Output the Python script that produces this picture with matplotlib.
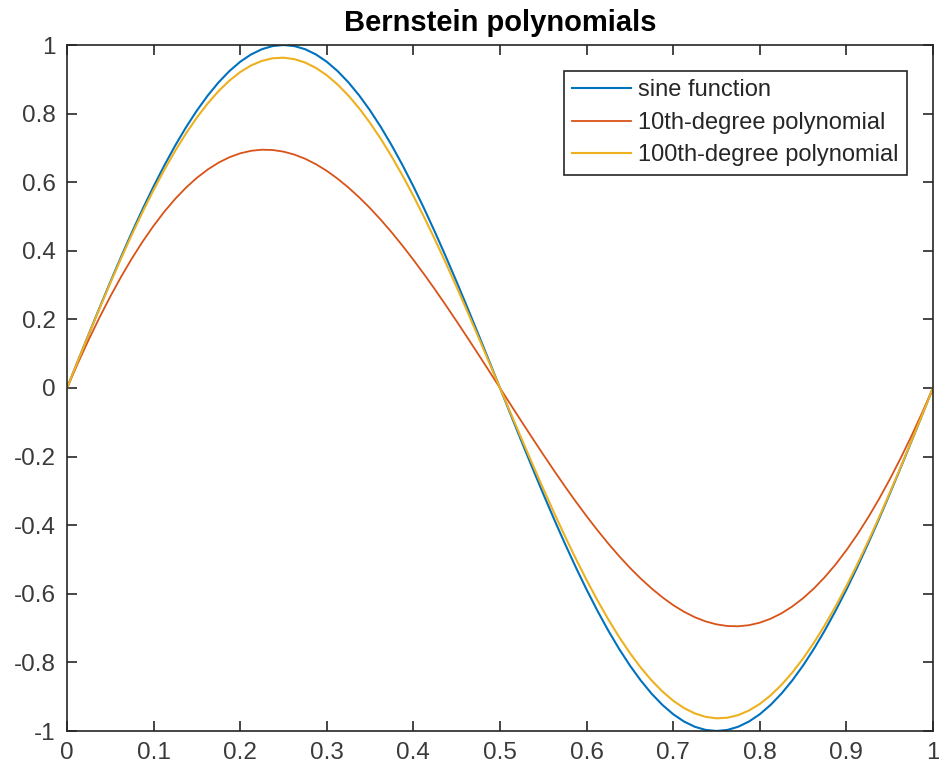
#!/usr/bin/env python3
"""Recreate the Bernstein polynomials comparison plot."""
import matplotlib
matplotlib.use('Agg')
import matplotlib.pyplot as plt

x_vals = [
    0.0000, 0.0125, 0.0250, 0.0375, 0.0500, 0.0625, 0.0750, 0.0875, 0.1000, 0.1125,
    0.1250, 0.1375, 0.1500, 0.1625, 0.1750, 0.1875, 0.2000, 0.2125, 0.2250, 0.2375,
    0.2500, 0.2625, 0.2750, 0.2875, 0.3000, 0.3125, 0.3250, 0.3375, 0.3500, 0.3625,
    0.3750, 0.3875, 0.4000, 0.4125, 0.4250, 0.4375, 0.4500, 0.4625, 0.4750, 0.4875,
    0.5000, 0.5125, 0.5250, 0.5375, 0.5500, 0.5625, 0.5750, 0.5875, 0.6000, 0.6125,
    0.6250, 0.6375, 0.6500, 0.6625, 0.6750, 0.6875, 0.7000, 0.7125, 0.7250, 0.7375,
    0.7500, 0.7625, 0.7750, 0.7875, 0.8000, 0.8125, 0.8250, 0.8375, 0.8500, 0.8625,
    0.8750, 0.8875, 0.9000, 0.9125, 0.9250, 0.9375, 0.9500, 0.9625, 0.9750, 0.9875,
    1.0000,
]
sine_vals = [
    0.0000, 0.0785, 0.1564, 0.2334, 0.3090, 0.3827, 0.4540, 0.5225, 0.5878, 0.6494,
    0.7071, 0.7604, 0.8090, 0.8526, 0.8910, 0.9239, 0.9511, 0.9724, 0.9877, 0.9969,
    1.0000, 0.9969, 0.9877, 0.9724, 0.9511, 0.9239, 0.8910, 0.8526, 0.8090, 0.7604,
    0.7071, 0.6494, 0.5878, 0.5225, 0.4540, 0.3827, 0.3090, 0.2334, 0.1564, 0.0785,
    0.0000, -0.0785, -0.1564, -0.2334, -0.3090, -0.3827, -0.4540, -0.5225, -0.5878, -0.6494,
    -0.7071, -0.7604, -0.8090, -0.8526, -0.8910, -0.9239, -0.9511, -0.9724, -0.9877, -0.9969,
    -1.0000, -0.9969, -0.9877, -0.9724, -0.9511, -0.9239, -0.8910, -0.8526, -0.8090, -0.7604,
    -0.7071, -0.6494, -0.5878, -0.5225, -0.4540, -0.3827, -0.3090, -0.2334, -0.1564, -0.0785,
    0.0000,
]
deg10_vals = [
    0.0000, 0.0719, 0.1404, 0.2054, 0.2667, 0.3243, 0.3779, 0.4275, 0.4730, 0.5144,
    0.5515, 0.5843, 0.6128, 0.6370, 0.6570, 0.6727, 0.6842, 0.6915, 0.6947, 0.6939,
    0.6891, 0.6806, 0.6683, 0.6524, 0.6330, 0.6102, 0.5843, 0.5556, 0.5242, 0.4900,
    0.4534, 0.4146, 0.3737, 0.3311, 0.2869, 0.2411, 0.1942, 0.1465, 0.0981, 0.0492,
    0.0000, -0.0492, -0.0981, -0.1465, -0.1942, -0.2411, -0.2869, -0.3311, -0.3737, -0.4146,
    -0.4534, -0.4900, -0.5242, -0.5556, -0.5843, -0.6102, -0.6330, -0.6524, -0.6683, -0.6806,
    -0.6891, -0.6939, -0.6947, -0.6915, -0.6842, -0.6727, -0.6570, -0.6370, -0.6128, -0.5843,
    -0.5515, -0.5144, -0.4730, -0.4275, -0.3779, -0.3243, -0.2667, -0.2054, -0.1404, -0.0719,
    0.0000,
]
deg100_vals = [
    0.0000, 0.0783, 0.1557, 0.2317, 0.3061, 0.3783, 0.4478, 0.5143, 0.5774, 0.6366,
    0.6918, 0.7426, 0.7886, 0.8297, 0.8656, 0.8961, 0.9211, 0.9403, 0.9537, 0.9613,
    0.9630, 0.9588, 0.9488, 0.9331, 0.9117, 0.8847, 0.8524, 0.8150, 0.7727, 0.7257,
    0.6744, 0.6190, 0.5600, 0.4975, 0.4321, 0.3641, 0.2939, 0.2219, 0.1487, 0.0746,
    0.0000, -0.0746, -0.1487, -0.2219, -0.2939, -0.3641, -0.4321, -0.4975, -0.5600, -0.6190,
    -0.6744, -0.7257, -0.7727, -0.8150, -0.8524, -0.8847, -0.9117, -0.9331, -0.9488, -0.9588,
    -0.9630, -0.9613, -0.9537, -0.9403, -0.9211, -0.8961, -0.8656, -0.8297, -0.7886, -0.7426,
    -0.6918, -0.6366, -0.5774, -0.5143, -0.4478, -0.3783, -0.3061, -0.2317, -0.1557, -0.0783,
    0.0000,
]
series_labels = ['sine function', '10th-degree polynomial', '100th-degree polynomial']
x_ticks = [0, 0.1, 0.2, 0.3, 0.4, 0.5, 0.6, 0.7, 0.8, 0.9, 1]
x_tick_labels = ['0', '0.1', '0.2', '0.3', '0.4', '0.5', '0.6', '0.7', '0.8', '0.9', '1']
y_ticks = [-1, -0.8, -0.6, -0.4, -0.2, 0, 0.2, 0.4, 0.6, 0.8, 1]
y_tick_labels = ['-1', '-0.8', '-0.6', '-0.4', '-0.2', '0', '0.2', '0.4', '0.6', '0.8', '1']


def main():
    plt.rcParams['font.family'] = ['Liberation Sans', 'DejaVu Sans']
    plt.rcParams['axes.unicode_minus'] = False

    dark = '#262626'
    fig = plt.figure(figsize=(9.39, 7.76), dpi=100)
    ax = fig.add_axes([67 / 939, 45 / 776, 866 / 939, 686 / 776])

    # MATLAB default colour order
    ax.plot(x_vals, sine_vals, color='#0072BD', linewidth=1.5, label=series_labels[0])
    ax.plot(x_vals, deg10_vals, color='#D95319', linewidth=1.3, label=series_labels[1])
    ax.plot(x_vals, deg100_vals, color='#EDB120', linewidth=1.5, label=series_labels[2])

    ax.set_xlim(0, 1)
    ax.set_ylim(-1, 1)
    ax.set_xticks(x_ticks)
    ax.set_xticklabels(x_tick_labels)
    ax.set_yticks(y_ticks)
    ax.set_yticklabels(y_tick_labels)
    ax.tick_params(direction='in', length=7, width=1.2, colors=dark,
                   labelsize=17.5, top=True, right=True, pad=8)
    for lbl in ax.get_xticklabels() + ax.get_yticklabels():
        lbl.set_color('#3a3a3a')
    for spine in ax.spines.values():
        spine.set_color(dark)
        spine.set_linewidth(1.2)

    ax.set_title('Bernstein polynomials', fontsize=21, fontweight='bold',
                 color='black', pad=10)

    leg = ax.legend(loc='upper right', fontsize=17, frameon=True, fancybox=False,
                    edgecolor=dark, framealpha=1, handlelength=2.5,
                    handletextpad=0.3, labelspacing=0.45, borderpad=0.35,
                    borderaxespad=1.1)
    leg.get_frame().set_linewidth(1.2)
    for txt in leg.get_texts():
        txt.set_color('#262626')

    plt.savefig('out.png', dpi=100)


if __name__ == '__main__':
    main()
